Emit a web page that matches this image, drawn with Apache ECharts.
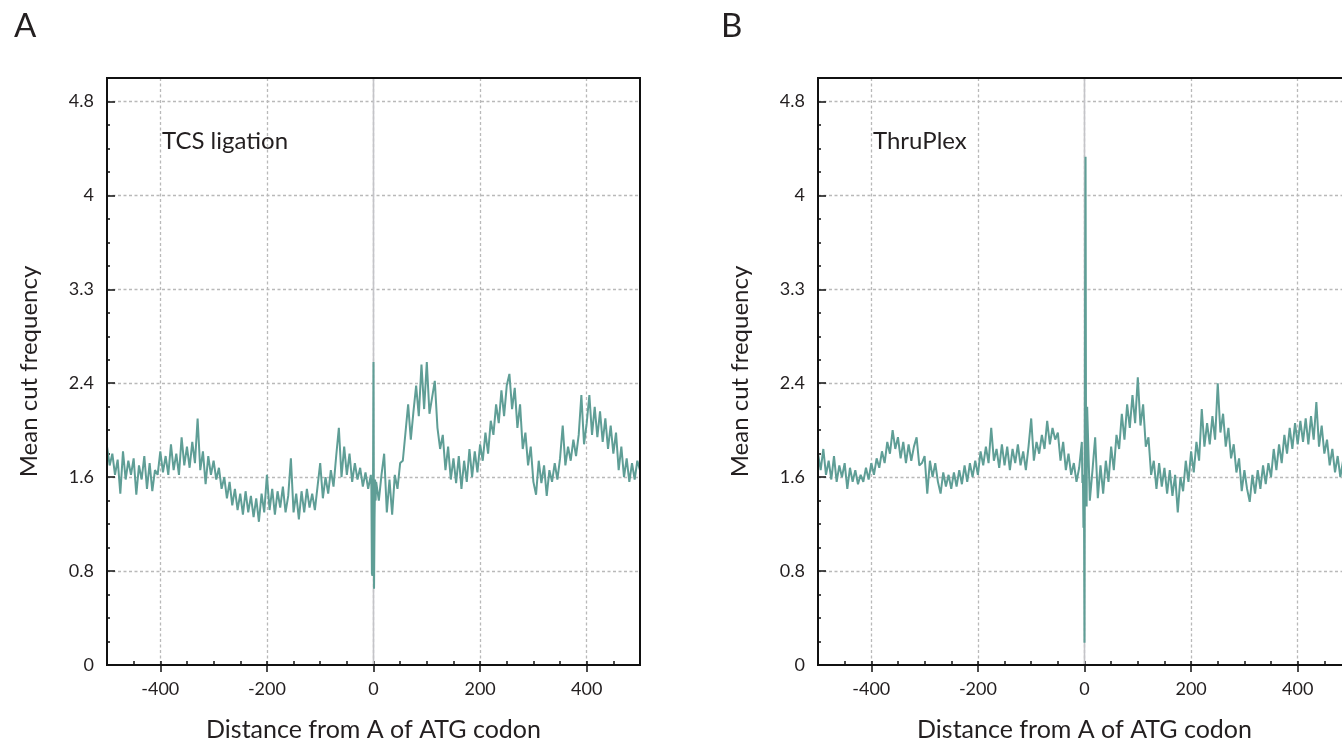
<!DOCTYPE html>
<html>
<head>
<meta charset="utf-8">
<script src="https://cdn.jsdelivr.net/npm/echarts@6/dist/echarts.min.js"></script>
<style>
html,body{margin:0;padding:0;background:#fff;}
#c{width:1342px;height:741px;}
</style>
</head>
<body>
<div id="c"></div>
<script>
// ---- data ----
const positions = [
-500,-495,-490,-485,-480,-475,-470,-465,-460,-455,
-450,-445,-440,-435,-430,-425,-420,-415,-410,-405,
-400,-395,-390,-385,-380,-375,-370,-365,-360,-355,
-350,-345,-340,-335,-330,-325,-320,-315,-310,-305,
-300,-295,-290,-285,-280,-275,-270,-265,-260,-255,
-250,-245,-240,-235,-230,-225,-220,-215,-210,-205,
-200,-195,-190,-185,-180,-175,-170,-165,-160,-155,
-150,-145,-140,-135,-130,-125,-120,-115,-110,-105,
-100,-95,-90,-85,-80,-75,-70,-65,-60,-55,
-50,-45,-40,-35,-30,-25,-20,-15,-10,-5,
-4,-3,-2,-1,0,1,2,3,4,
5,10,15,20,25,30,35,40,45,50,
55,60,65,70,75,80,85,90,95,100,
105,110,115,120,125,130,135,140,145,150,
155,160,165,170,175,180,185,190,195,200,
205,210,215,220,225,230,235,240,245,250,
255,260,265,270,275,280,285,290,295,300,
305,310,315,320,325,330,335,340,345,350,
355,360,365,370,375,380,385,390,395,400,
405,410,415,420,425,430,435,440,445,450,
455,460,465,470,475,480,485,490,495,500
];

const tcsLigation = [
1.86,1.70,1.80,1.62,1.75,1.46,1.82,1.58,1.74,1.62,
1.76,1.45,1.70,1.58,1.78,1.50,1.72,1.48,1.66,1.62,
1.82,1.64,1.78,1.62,1.88,1.66,1.80,1.62,1.94,1.70,
1.86,1.68,1.90,1.72,2.10,1.66,1.82,1.54,1.78,1.62,
1.74,1.58,1.68,1.50,1.60,1.42,1.56,1.36,1.50,1.32,
1.46,1.28,1.48,1.30,1.44,1.26,1.42,1.22,1.46,1.30,
1.62,1.32,1.50,1.28,1.48,1.34,1.52,1.30,1.44,1.76,
1.30,1.46,1.24,1.48,1.30,1.50,1.34,1.46,1.32,1.52,
1.72,1.42,1.60,1.46,1.66,1.52,1.78,2.02,1.60,1.86,
1.62,1.80,1.56,1.72,1.58,1.68,1.52,1.64,1.50,1.62,
1.52,0.78,0.76,1.35,2.58,0.65,1.25,1.58,1.40,
1.56,1.40,1.62,1.80,1.30,1.58,1.28,1.62,1.50,1.72,
1.74,1.98,2.22,1.92,2.16,2.38,2.12,2.56,2.18,2.58,
2.14,2.28,2.42,2.02,1.84,1.96,1.66,1.86,1.58,1.76,
1.55,1.78,1.50,1.74,1.56,1.84,1.60,1.82,1.64,1.88,
1.74,1.98,1.80,2.08,1.96,2.22,2.06,2.34,2.12,2.38,
2.48,2.18,2.36,2.02,2.22,1.84,1.98,1.70,1.86,1.56,
1.45,1.74,1.55,1.70,1.44,1.66,1.56,1.72,1.58,1.76,
2.04,1.70,1.86,1.74,1.92,1.78,1.96,2.30,1.88,2.06,
2.30,1.96,2.20,1.94,2.16,1.90,2.10,1.84,2.04,1.80,
1.98,1.66,1.86,1.60,1.76,1.56,1.72,1.58,1.74,1.66
];

const thruPlex = [
1.80,1.66,1.84,1.62,1.74,1.58,1.78,1.56,1.70,1.60,
1.72,1.50,1.68,1.56,1.66,1.54,1.62,1.56,1.68,1.58,
1.72,1.62,1.76,1.68,1.82,1.72,1.90,1.80,2.00,1.84,
1.94,1.76,1.90,1.72,1.88,1.74,1.86,1.94,1.70,1.72,
1.78,1.46,1.74,1.60,1.72,1.56,1.46,1.64,1.52,1.62,
1.50,1.64,1.52,1.66,1.54,1.70,1.56,1.72,1.60,1.74,
1.62,1.82,1.70,1.86,1.72,2.02,1.74,1.84,1.68,1.88,
1.70,1.86,1.66,1.84,1.72,1.88,1.70,1.82,1.66,1.86,
2.10,1.74,1.90,1.80,1.96,1.84,2.08,1.88,2.02,1.92,
1.98,1.74,1.90,1.66,1.80,1.62,1.72,1.56,1.68,1.90,
1.55,1.62,1.17,1.45,0.19,3.05,4.33,1.50,1.35,
2.20,1.40,1.66,1.94,1.42,1.70,1.46,1.74,1.56,1.86,
1.66,1.96,1.84,2.14,1.92,2.22,2.02,2.30,2.06,2.45,
2.04,2.22,1.86,1.94,1.62,1.74,1.50,1.72,1.52,1.68,
1.46,1.66,1.44,1.62,1.30,1.60,1.48,1.74,1.56,1.82,
1.64,1.90,1.74,2.18,1.86,2.06,1.88,2.12,1.92,2.40,
1.98,2.14,1.86,2.02,1.76,1.88,1.64,1.76,1.48,1.66,
1.50,1.39,1.62,1.46,1.66,1.50,1.70,1.54,1.72,1.60,
1.84,1.66,1.88,1.72,1.96,1.80,2.02,1.84,2.06,1.88,
2.08,1.90,2.10,1.88,2.12,1.92,2.24,1.86,2.04,1.80,
1.92,1.70,1.84,1.64,1.78,1.60,1.74,1.62,1.76,1.66
];

const xTickCategories = ['-500','-450','-400','-350','-300','-250','-200','-150','-100','-50','0','50','100','150','200','250','300','350','400','450','500'];
const xTickLabels = ['-400','-200','0','200','400'];
const yTickValues = [0, 0.8, 1.6, 2.4, 3.2, 4, 4.8];
const yTickLabels = ['0', '0.8', '1.6', '2.4', '3.3', '4', '4.8'];
const panelLetters = ['A', 'B'];
const panelTitles = ['TCS ligation', 'ThruPlex'];
const zeroLineRange = [0, 5];

// ---- chart ----
const FONT = 'Lato, "Noto Sans", sans-serif';
const TEXT = '#231f20';
const LINE = '#5f9e96';
const GRIDC = '#b9b9b9';

const gridLefts = [107, 818];
const grids = gridLefts.map(l => ({
  left: l, top: 78, width: 533, height: 587,
  containLabel: false, outerBoundsMode: 'none',
  show: true, borderColor: '#111', borderWidth: 2, backgroundColor: 'transparent', z: 5
}));

const xAxes = [], yAxes = [], series = [], titles = [];
gridLefts.forEach((l, g) => {
  xAxes.push({
    type: 'value', gridIndex: g, min: -500, max: 500, interval: 50, position: 'bottom',
    axisLine: { show: true, onZero: false, lineStyle: { color: '#111', width: 2 } },
    axisTick: { show: true, inside: true, length: 4, lineStyle: { color: '#111', width: 1.5 } },
    axisLabel: { show: false },
    splitLine: { show: false },
    name: 'Distance from A of ATG codon', nameLocation: 'middle', nameGap: 52,
    nameTextStyle: { fontFamily: FONT, fontSize: 25, color: TEXT }
  });
  xAxes.push({
    type: 'category', gridIndex: g, data: xTickCategories, boundaryGap: false, position: 'bottom',
    axisLine: { show: false },
    axisTick: { show: true, inside: false, length: 7, interval: (i, v) => xTickLabels.includes(v), lineStyle: { color: '#111', width: 1.5 } },
    axisLabel: { show: true, interval: (i, v) => xTickLabels.includes(v), margin: 15, fontFamily: FONT, fontSize: 18, color: TEXT },
    splitLine: { show: true, interval: (i, v) => xTickLabels.includes(v), lineStyle: { color: GRIDC, width: 1.3, type: [3, 2.5] } }
  });
  yAxes.push({
    type: 'value', gridIndex: g, min: 0, max: 5, interval: 0.8,
    axisLine: { show: true, onZero: false, lineStyle: { color: '#111', width: 2 } },
    axisTick: { show: true, inside: true, length: 8, lineStyle: { color: '#111', width: 1.5 } },
    minorTick: { show: true, splitNumber: 4, length: 3, lineStyle: { color: '#111', width: 1.5 } },
    axisLabel: {
      margin: 13, fontFamily: FONT, fontSize: 18, color: TEXT, showMaxLabel: false,
      formatter: v => { const i = yTickValues.findIndex(t => Math.abs(t - v) < 1e-6); return i >= 0 ? yTickLabels[i] : ''; }
    },
    splitLine: { show: true, showMaxLine: false, showMinLine: false, lineStyle: { color: GRIDC, width: 1.3, type: [3, 2.5] } },
    name: 'Mean cut frequency', nameLocation: 'middle', nameGap: 66, nameRotate: 90,
    nameTextStyle: { fontFamily: FONT, fontSize: 24, color: TEXT }
  });
  series.push({
    type: 'line', xAxisIndex: 2 * g, yAxisIndex: g, z: 1, silent: true,
    data: zeroLineRange.map(v => [0, v]), symbol: 'none',
    lineStyle: { color: '#c4c4c8', width: 1.6 }
  });
  const vals = g === 0 ? tcsLigation : thruPlex;
  series.push({
    type: 'line', name: panelTitles[g], xAxisIndex: 2 * g, yAxisIndex: g, z: 3,
    data: positions.map((p, i) => [p, vals[i]]), symbol: 'none', sampling: null,
    lineStyle: { color: LINE, width: 2 }
  });
  titles.push({
    text: panelTitles[g], left: l + 50, top: 124,
    textStyle: { fontFamily: FONT, fontSize: 24, fontWeight: 'normal', color: TEXT }
  });
  titles.push({
    text: panelLetters[g], left: g === 0 ? 9 : 716, top: 5,
    textStyle: { fontFamily: FONT, fontSize: 33, fontWeight: 'normal', color: TEXT }
  });
});

const chart = echarts.init(document.getElementById('c'), null, { renderer: 'canvas' });
chart.setOption({
  animation: false,
  backgroundColor: '#fff',
  title: titles,
  grid: grids,
  xAxis: xAxes,
  yAxis: yAxes,
  series: series
});
</script>
</body>
</html>
